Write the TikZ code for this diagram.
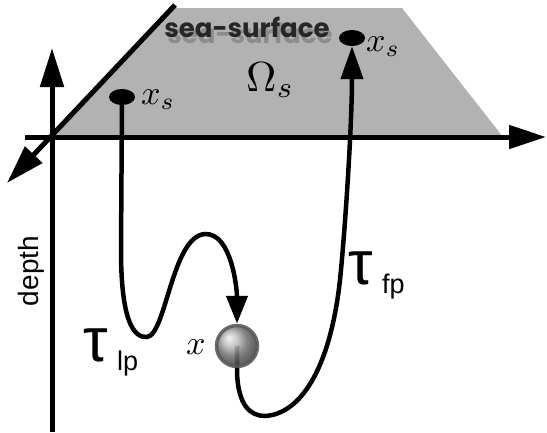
\documentclass[tikz,border=0pt]{standalone}
\usepackage{graphicx}
\usepackage{fontspec}
\newfontfamily\sansf{Liberation Sans}
\newfontfamily\comic{Poppins}
\usetikzlibrary{arrows.meta,shapes.geometric,shadings}
\pgfdeclarelayer{bg}
\pgfsetlayers{bg,main}
\newcommand{\mlabtxt}[1]{\scalebox{3.4}{$#1$}}
\newcommand{\shadowtxt}[1]{\makebox[0pt][l]{\hspace{3pt}\raisebox{-6pt}{\textcolor{black!45}{#1}}}#1}
\begin{document}
\begin{tikzpicture}[x=1pt,y=-1pt,
  axis/.style={line width=5pt},
  trail/.style={line width=4.5pt},
  dot/.style={ellipse,fill=black,inner sep=0pt,minimum width=26pt,minimum height=16pt},
  lab/.style={inner sep=0pt,anchor=base west},
  mathlab/.style={lab},
  taulab/.style={lab,font=\sansf\fontsize{62}{62}\selectfont},
  sublab/.style={lab,font=\sansf\fontsize{27}{27}\selectfont},
  seatext/.style={anchor=base,inner sep=0pt,text=black!85,font=\comic\bfseries\fontsize{26}{26}\selectfont},
  ballstyle/.style={circle,minimum size=41pt,inner sep=0pt,draw=black!65,line width=3.5pt,shading=ball,ball color=black!35,opacity=0.88}]
\useasboundingbox (0,0) rectangle (547,432);
% dots and ball
\node[dot] (s1) at (122,97) {};
\node[dot] (s2) at (352,38) {};
\node[ballstyle] (ball) at (237,346) {};
\begin{pgfonlayer}{bg}
\fill[black!30] (52,137) -- (172,8) -- (402,8) -- (503,137) -- cycle;
\draw[trail,-{Triangle[length=28pt,width=21pt]}] (s1.center) -- (121,250)
  .. controls (121,322) and (134,338) .. (147,337)
  .. controls (166,335) and (172,236) .. (205,234)
  .. controls (232,233) and (237,290) .. (ball.north);
\draw[trail,-{Triangle[length=33pt,width=22pt]}] (ball.center) -- (237,372)
  .. controls (238,405) and (250,416) .. (265,416)
  .. controls (300,414) and (330,370) .. (340,280)
  .. controls (346,220) and (352,120) .. (s2.south);
\end{pgfonlayer}
% axes
\coordinate (vb) at (52,432); \coordinate (vt) at (52,48);
\coordinate (hl) at (25,137); \coordinate (hr) at (546,137);
\coordinate (dt) at (175,5); \coordinate (db) at (7,183);
\draw[axis,-{Triangle[length=39pt,width=23pt]}] (vb) -- (vt);
\draw[axis,-{Triangle[length=37pt,width=23pt]}] (hl) -- (hr);
\draw[axis,-{Triangle[length=39pt,width=23pt]}] (dt) -- (db);
% texts
\node[seatext] (sea) at (247,37) {\shadowtxt{sea-surface}};
\node[mathlab] (l1) at (141,104) {\mlabtxt{x_s}};
\node[mathlab] (l2) at (366,51) {\mlabtxt{x_s}};
\node[mathlab] (om) at (246,91) {\scalebox{4.2}{$\Omega_s$}};
\node[mathlab] (lx) at (186,354) {\mlabtxt{x}};
\node[taulab] (t1) at (83,361) {τ};
\node[sublab] (t1s) at (117,370) {lp};
\node[taulab] (t2) at (348,284) {τ};
\node[sublab] (t2s) at (382,293) {fp};
\node[font=\sansf\fontsize{28}{28}\selectfont,rotate=90,inner sep=0pt] (depth) at (31,271) {depth};
\end{tikzpicture}
\end{document}
